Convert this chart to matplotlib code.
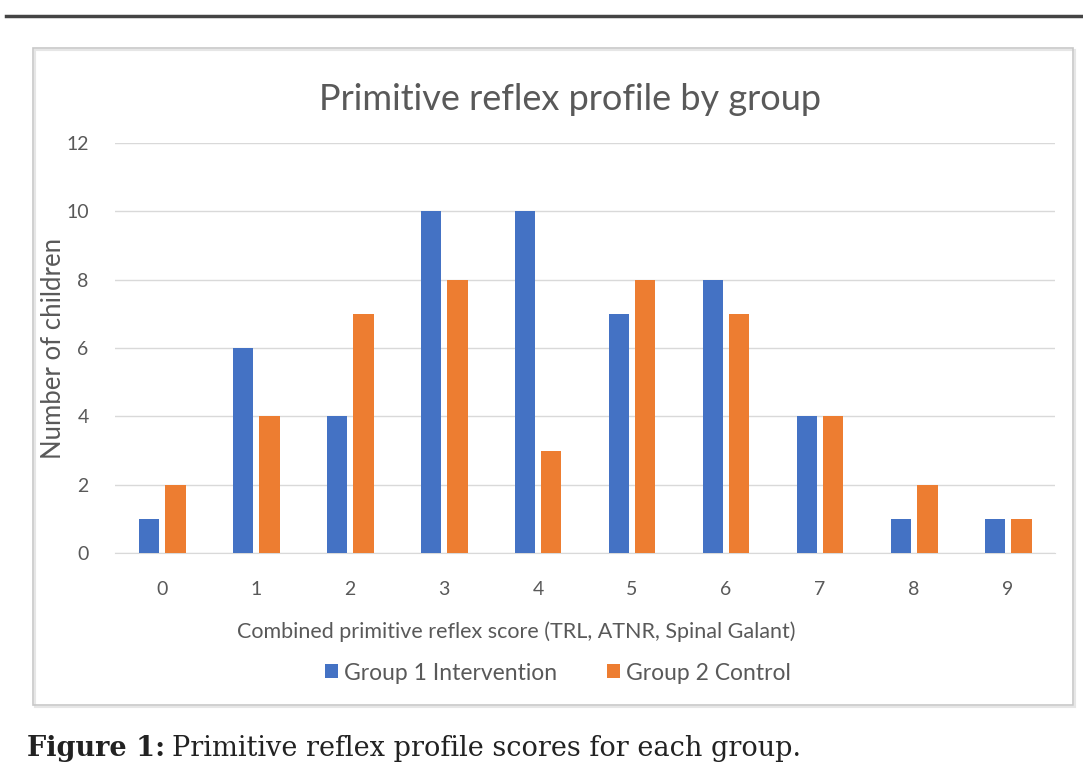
import matplotlib
matplotlib.use("Agg")
import matplotlib.pyplot as plt
from matplotlib.patches import Rectangle
from matplotlib.lines import Line2D
import numpy as np

# ── data ─────────────────────────────────────────────
scores = ["0", "1", "2", "3", "4", "5", "6", "7", "8", "9"]
group1 = [1, 6, 4, 10, 10, 7, 8, 4, 1, 1]   # Group 1 Intervention
group2 = [2, 4, 7, 8, 3, 8, 7, 4, 2, 1]     # Group 2 Control
yticks = [0, 2, 4, 6, 8, 10, 12]

BLUE = "#4472C4"
ORANGE = "#ED7D31"
GRAY = "#595959"
FONT = "Lato"
W, H = 1083, 781

fig = plt.figure(figsize=(W / 100, H / 100), dpi=100, facecolor="white")

# top rule of the page
fig.add_artist(Line2D([0.006, 1.0], [0.979, 0.979], color="#444444", lw=2.5,
                      transform=fig.transFigure))

# chart frame (with a faint shadow)
fig.add_artist(Rectangle((35 / W, 1 - 707 / H), 1040 / W, 657 / H,
                         transform=fig.transFigure, fill=False,
                         edgecolor="#e6e6e6", lw=1.5))
fig.add_artist(Rectangle((33 / W, 1 - 705 / H), 1040 / W, 657 / H,
                         transform=fig.transFigure, fill=False,
                         edgecolor="#c8c8c8", lw=1.2))

ax = fig.add_axes([115 / W, 1 - 553 / H, 940 / W, 410 / H])
x = np.arange(len(scores))
w = 0.22
ax.bar(x - 0.14, group1, w, color=BLUE, label="Group 1 Intervention", zorder=3)
ax.bar(x + 0.14, group2, w, color=ORANGE, label="Group 2 Control", zorder=3)

ax.set_xlim(-0.5, len(scores) - 0.5)
ax.set_ylim(0, 12)
ax.set_yticks(yticks)
ax.set_xticks(x)
ax.set_xticklabels(scores)
ax.grid(axis="y", color="#d9d9d9", lw=1, zorder=0)
for s in ["top", "right", "left"]:
    ax.spines[s].set_visible(False)
ax.spines["bottom"].set_color("#d9d9d9")
ax.tick_params(length=0, labelsize=14, labelcolor=GRAY)
ax.tick_params(axis="x", pad=20)
ax.tick_params(axis="y", pad=19)
for lab in ax.get_xticklabels() + ax.get_yticklabels():
    lab.set_fontfamily(FONT)

fig.text(54 / W, 1 - 348 / H, "Number of children", fontsize=18.5, color=GRAY,
         family=FONT, rotation=90, ha="center", va="center")
fig.text(516 / W, 1 - 632 / H,
         "Combined primitive reflex score (TRL, ATNR, Spinal Galant)",
         fontsize=15.5, color=GRAY, family=FONT, ha="center", va="center")
fig.text(570 / W, 1 - 100 / H, "Primitive reflex profile by group", fontsize=26,
         color=GRAY, family=FONT, ha="center", va="center")

fig.legend(loc="center", bbox_to_anchor=(558 / W, 1 - 673 / H), ncol=2,
           frameon=False, prop={"family": FONT, "size": 16.5},
           labelcolor=GRAY, handlelength=0.55, handleheight=0.55,
           handletextpad=0.25, columnspacing=2.2)

# caption
fig.canvas.draw()
r = fig.canvas.get_renderer()
t1 = fig.text(27 / W, 1 - 748 / H, "Figure 1:", fontsize=19.5, family="DejaVu Serif",
              weight="bold", ha="left", va="center", color="#222222")
bb = t1.get_window_extent(renderer=r)
fig.text((bb.x1 + 7) / W, 1 - 748 / H, "Primitive reflex profile scores for each group.",
         fontsize=19.5, family="DejaVu Serif", ha="left", va="center", color="#222222")

fig.savefig("out.png", dpi=100, facecolor="white")
